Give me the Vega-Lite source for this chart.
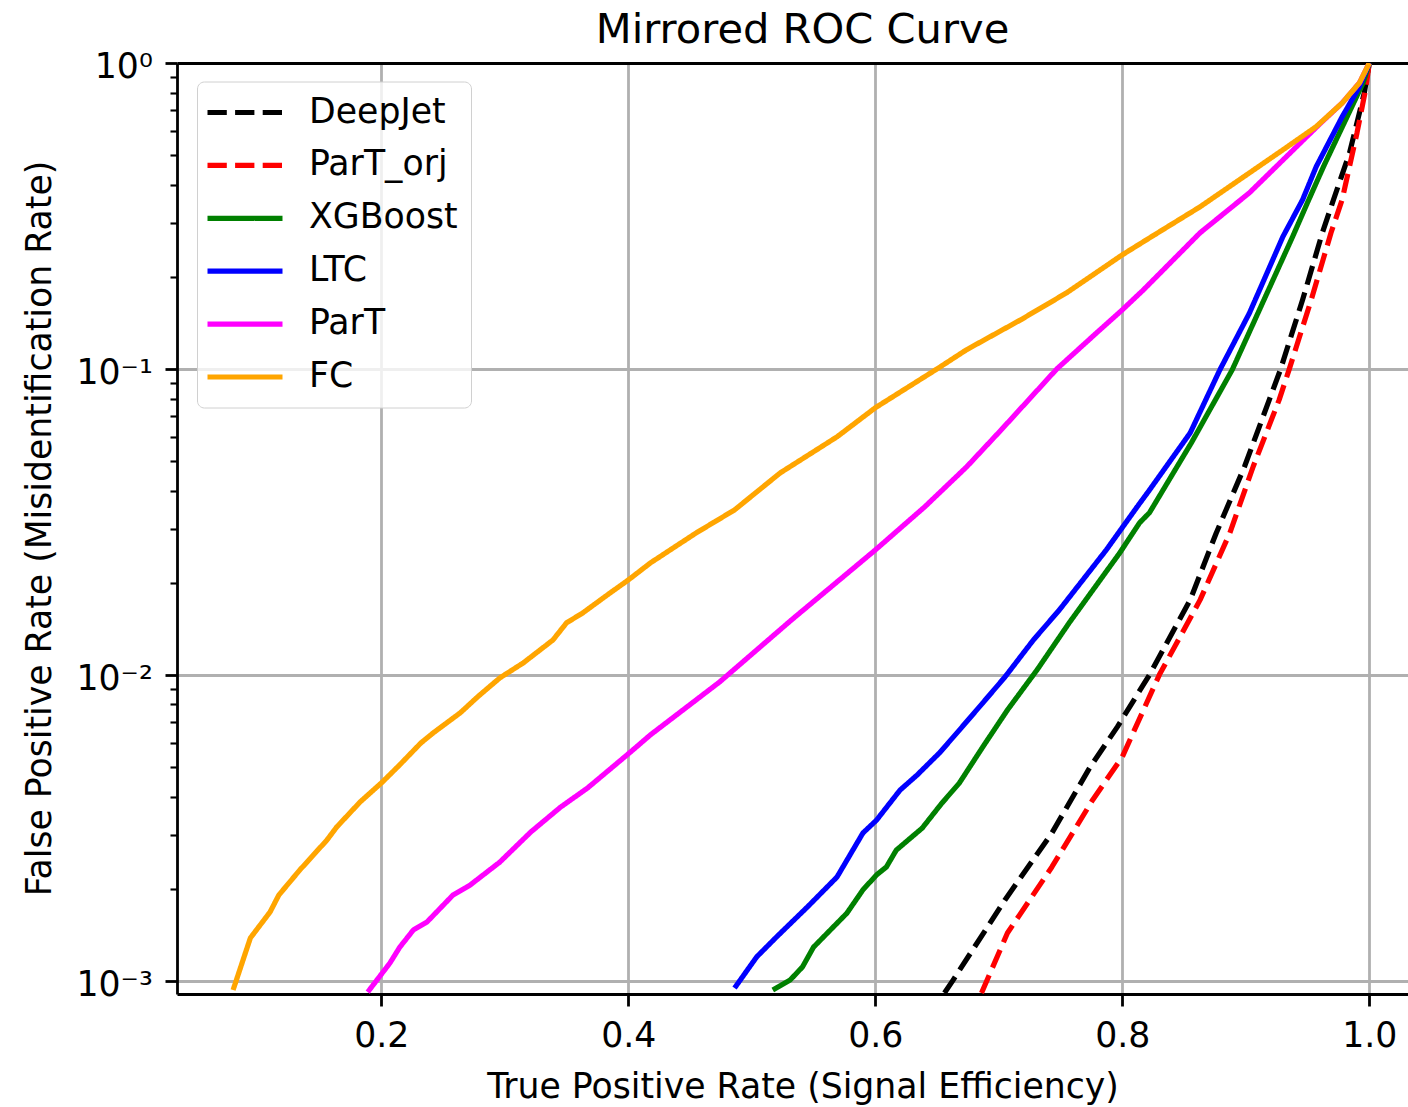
{
  "$schema": "https://vega.github.io/schema/vega-lite/v6.json",
  "width": 1231,
  "height": 931,
  "autosize": {"type": "none"},
  "padding": {"left": 177, "top": 63, "right": 0, "bottom": 113},
  "background": "white",
  "config": {"font": "DejaVu Sans", "view": {"stroke": null}},
  "title": {"text": "Mirrored ROC Curve", "fontSize": 41.6, "fontWeight": "normal", "font": "DejaVu Sans", "color": "black", "anchor": "middle", "frame": "group", "dx": 10, "dy": 54, "baseline": "alphabetic", "offset": 19},
  "data": {"values": [
    {"model":"DeepJet","tpr":0.656,"fpr":0.000912},{"model":"DeepJet","tpr":0.663,"fpr":0.001005},{"model":"DeepJet","tpr":0.705,"fpr":0.001837},{"model":"DeepJet","tpr":0.743,"fpr":0.003041},{"model":"DeepJet","tpr":0.774,"fpr":0.005},{"model":"DeepJet","tpr":0.796,"fpr":0.00676},{"model":"DeepJet","tpr":0.822,"fpr":0.01},{"model":"DeepJet","tpr":0.855,"fpr":0.01758},{"model":"DeepJet","tpr":0.876,"fpr":0.02904},{"model":"DeepJet","tpr":0.899,"fpr":0.04797},{"model":"DeepJet","tpr":0.919,"fpr":0.0792},{"model":"DeepJet","tpr":0.928,"fpr":0.0993},{"model":"DeepJet","tpr":0.946,"fpr":0.1682},{"model":"DeepJet","tpr":0.962,"fpr":0.2786},{"model":"DeepJet","tpr":0.971,"fpr":0.3573},{"model":"DeepJet","tpr":0.984,"fpr":0.508},{"model":"DeepJet","tpr":0.996,"fpr":0.8},{"model":"DeepJet","tpr":1.0,"fpr":1.0},
    {"model":"ParT_orj","tpr":0.686,"fpr":0.000912},{"model":"ParT_orj","tpr":0.707,"fpr":0.001432},{"model":"ParT_orj","tpr":0.743,"fpr":0.002355},{"model":"ParT_orj","tpr":0.776,"fpr":0.003899},{"model":"ParT_orj","tpr":0.8,"fpr":0.005395},{"model":"ParT_orj","tpr":0.83,"fpr":0.01},{"model":"ParT_orj","tpr":0.863,"fpr":0.01758},{"model":"ParT_orj","tpr":0.887,"fpr":0.02904},{"model":"ParT_orj","tpr":0.906,"fpr":0.04797},{"model":"ParT_orj","tpr":0.927,"fpr":0.0792},{"model":"ParT_orj","tpr":0.935,"fpr":0.0993},{"model":"ParT_orj","tpr":0.953,"fpr":0.1682},{"model":"ParT_orj","tpr":0.969,"fpr":0.2786},{"model":"ParT_orj","tpr":0.978,"fpr":0.3573},{"model":"ParT_orj","tpr":0.99,"fpr":0.59},{"model":"ParT_orj","tpr":0.997,"fpr":0.818},{"model":"ParT_orj","tpr":1.0,"fpr":1.0},
    {"model":"XGBoost","tpr":0.517,"fpr":0.000933},{"model":"XGBoost","tpr":0.531,"fpr":0.001005},{"model":"XGBoost","tpr":0.541,"fpr":0.001109},{"model":"XGBoost","tpr":0.55,"fpr":0.001288},{"model":"XGBoost","tpr":0.577,"fpr":0.001663},{"model":"XGBoost","tpr":0.59,"fpr":0.001982},{"model":"XGBoost","tpr":0.601,"fpr":0.002218},{"model":"XGBoost","tpr":0.609,"fpr":0.002355},{"model":"XGBoost","tpr":0.617,"fpr":0.002673},{"model":"XGBoost","tpr":0.638,"fpr":0.003155},{"model":"XGBoost","tpr":0.654,"fpr":0.003811},{"model":"XGBoost","tpr":0.668,"fpr":0.004426},{"model":"XGBoost","tpr":0.687,"fpr":0.005808},{"model":"XGBoost","tpr":0.707,"fpr":0.007674},{"model":"XGBoost","tpr":0.731,"fpr":0.01038},{"model":"XGBoost","tpr":0.757,"fpr":0.01479},{"model":"XGBoost","tpr":0.798,"fpr":0.02506},{"model":"XGBoost","tpr":0.814,"fpr":0.03141},{"model":"XGBoost","tpr":0.822,"fpr":0.03388},{"model":"XGBoost","tpr":0.856,"fpr":0.05741},{"model":"XGBoost","tpr":0.889,"fpr":0.0993},{"model":"XGBoost","tpr":0.938,"fpr":0.271},{"model":"XGBoost","tpr":0.951,"fpr":0.3573},{"model":"XGBoost","tpr":0.963,"fpr":0.4592},{"model":"XGBoost","tpr":0.982,"fpr":0.6668},{"model":"XGBoost","tpr":0.995,"fpr":0.861},{"model":"XGBoost","tpr":1.0,"fpr":1.0},
    {"model":"LTC","tpr":0.486,"fpr":0.000946},{"model":"LTC","tpr":0.504,"fpr":0.001197},{"model":"LTC","tpr":0.52,"fpr":0.00139},{"model":"LTC","tpr":0.545,"fpr":0.001742},{"model":"LTC","tpr":0.569,"fpr":0.002183},{"model":"LTC","tpr":0.59,"fpr":0.003041},{"model":"LTC","tpr":0.601,"fpr":0.00335},{"model":"LTC","tpr":0.62,"fpr":0.004198},{"model":"LTC","tpr":0.634,"fpr":0.00471},{"model":"LTC","tpr":0.652,"fpr":0.005559},{"model":"LTC","tpr":0.668,"fpr":0.006592},{"model":"LTC","tpr":0.687,"fpr":0.008091},{"model":"LTC","tpr":0.705,"fpr":0.00984},{"model":"LTC","tpr":0.728,"fpr":0.013},{"model":"LTC","tpr":0.749,"fpr":0.01629},{"model":"LTC","tpr":0.787,"fpr":0.02559},{"model":"LTC","tpr":0.812,"fpr":0.0354},{"model":"LTC","tpr":0.822,"fpr":0.04018},{"model":"LTC","tpr":0.855,"fpr":0.0618},{"model":"LTC","tpr":0.879,"fpr":0.0993},{"model":"LTC","tpr":0.903,"fpr":0.1524},{"model":"LTC","tpr":0.93,"fpr":0.2704},{"model":"LTC","tpr":0.946,"fpr":0.3573},{"model":"LTC","tpr":0.957,"fpr":0.4581},{"model":"LTC","tpr":0.978,"fpr":0.6668},{"model":"LTC","tpr":0.992,"fpr":0.8356},{"model":"LTC","tpr":1.0,"fpr":1.0},
    {"model":"ParT","tpr":0.189,"fpr":0.000918},{"model":"ParT","tpr":0.207,"fpr":0.001143},{"model":"ParT","tpr":0.215,"fpr":0.001288},{"model":"ParT","tpr":0.226,"fpr":0.001466},{"model":"ParT","tpr":0.237,"fpr":0.001556},{"model":"ParT","tpr":0.258,"fpr":0.001905},{"model":"ParT","tpr":0.272,"fpr":0.002056},{"model":"ParT","tpr":0.296,"fpr":0.002443},{"model":"ParT","tpr":0.321,"fpr":0.003062},{"model":"ParT","tpr":0.345,"fpr":0.00369},{"model":"ParT","tpr":0.367,"fpr":0.004266},{"model":"ParT","tpr":0.401,"fpr":0.005559},{"model":"ParT","tpr":0.418,"fpr":0.006368},{"model":"ParT","tpr":0.474,"fpr":0.00948},{"model":"ParT","tpr":0.532,"fpr":0.0151},{"model":"ParT","tpr":0.6,"fpr":0.02559},{"model":"ParT","tpr":0.64,"fpr":0.0354},{"model":"ParT","tpr":0.674,"fpr":0.04786},{"model":"ParT","tpr":0.702,"fpr":0.06324},{"model":"ParT","tpr":0.747,"fpr":0.1},{"model":"ParT","tpr":0.78,"fpr":0.1321},{"model":"ParT","tpr":0.8,"fpr":0.156},{"model":"ParT","tpr":0.817,"fpr":0.1811},{"model":"ParT","tpr":0.863,"fpr":0.2786},{"model":"ParT","tpr":0.903,"fpr":0.3767},{"model":"ParT","tpr":0.961,"fpr":0.6383},{"model":"ParT","tpr":0.978,"fpr":0.7396},{"model":"ParT","tpr":0.992,"fpr":0.861},{"model":"ParT","tpr":1.0,"fpr":1.0},
    {"model":"FC","tpr":0.08,"fpr":0.000933},{"model":"FC","tpr":0.094,"fpr":0.00138},{"model":"FC","tpr":0.11,"fpr":0.001679},{"model":"FC","tpr":0.117,"fpr":0.001905},{"model":"FC","tpr":0.134,"fpr":0.002301},{"model":"FC","tpr":0.156,"fpr":0.002884},{"model":"FC","tpr":0.164,"fpr":0.003184},{"model":"FC","tpr":0.183,"fpr":0.003846},{"model":"FC","tpr":0.201,"fpr":0.004467},{"model":"FC","tpr":0.215,"fpr":0.005082},{"model":"FC","tpr":0.232,"fpr":0.005984},{"model":"FC","tpr":0.242,"fpr":0.006457},{"model":"FC","tpr":0.264,"fpr":0.007516},{"model":"FC","tpr":0.278,"fpr":0.008472},{"model":"FC","tpr":0.296,"fpr":0.009772},{"model":"FC","tpr":0.315,"fpr":0.01094},{"model":"FC","tpr":0.339,"fpr":0.013},{"model":"FC","tpr":0.35,"fpr":0.01479},{"model":"FC","tpr":0.363,"fpr":0.01592},{"model":"FC","tpr":0.383,"fpr":0.01824},{"model":"FC","tpr":0.4,"fpr":0.02042},{"model":"FC","tpr":0.418,"fpr":0.02323},{"model":"FC","tpr":0.455,"fpr":0.02911},{"model":"FC","tpr":0.486,"fpr":0.03459},{"model":"FC","tpr":0.523,"fpr":0.04571},{"model":"FC","tpr":0.569,"fpr":0.05998},{"model":"FC","tpr":0.6,"fpr":0.07464},{"model":"FC","tpr":0.65,"fpr":0.1},{"model":"FC","tpr":0.674,"fpr":0.1156},{"model":"FC","tpr":0.718,"fpr":0.1449},{"model":"FC","tpr":0.755,"fpr":0.1774},{"model":"FC","tpr":0.8,"fpr":0.236},{"model":"FC","tpr":0.826,"fpr":0.2742},{"model":"FC","tpr":0.863,"fpr":0.3388},{"model":"FC","tpr":0.903,"fpr":0.4375},{"model":"FC","tpr":0.93,"fpr":0.52},{"model":"FC","tpr":0.957,"fpr":0.6194},{"model":"FC","tpr":0.978,"fpr":0.7396},{"model":"FC","tpr":0.992,"fpr":0.861},{"model":"FC","tpr":1.0,"fpr":1.0}
  ]},
  "mark": {"type": "line", "strokeWidth": 5.2, "clip": true, "strokeCap": "butt", "strokeJoin": "round"},
  "encoding": {
    "x": {"field": "tpr", "type": "quantitative",
      "scale": {"domain": [0.03458, 1.03134], "nice": false, "zero": false},
      "axis": {"title": "True Positive Rate (Signal Efficiency)", "values": [0.2, 0.4, 0.6, 0.8, 1.0], "format": ".1f",
        "labelFontSize": 34.7, "labelColor": "black", "labelPadding": 13.6, "labelFlush": false, "labelOverlap": false,
        "tickSize": 12, "tickWidth": 2.8, "tickColor": "black", "domainColor": "black", "domainWidth": 2.8,
        "grid": true, "gridColor": "#b0b0b0", "gridWidth": 2.8,
        "titleFontSize": 34.7, "titleFontWeight": "normal", "titleColor": "black", "titleBaseline": "alphabetic", "titleAlign": "center", "titleX": 625.5, "titleY": 103}},
    "y": {"field": "fpr", "type": "quantitative",
      "scale": {"type": "log", "domain": [0.000905, 1], "nice": false, "zero": false},
      "axis": {"title": "False Positive Rate (Misidentification Rate)",
        "values": [0.001,0.002,0.003,0.004,0.005,0.006,0.007,0.008,0.009,0.01,0.02,0.03,0.04,0.05,0.06,0.07,0.08,0.09,0.1,0.2,0.3,0.4,0.5,0.6,0.7,0.8,0.9,1],
        "labelExpr": "datum.value == 1 ? '10⁰' : datum.value == 0.1 ? '10⁻¹' : datum.value == 0.01 ? '10⁻²' : datum.value == 0.001 ? '10⁻³' : ''",
        "labelFontSize": 34.7, "labelColor": "black", "labelPadding": 12.7, "labelFlush": false, "labelOverlap": false, "labelBaseline": "middle", "labelOffset": 4.3,
        "tickSize": {"condition": {"test": "indexof([1,0.1,0.01,0.001], datum.value) >= 0", "value": 12}, "value": 7},
        "tickWidth": {"condition": {"test": "indexof([1,0.1,0.01,0.001], datum.value) >= 0", "value": 2.8}, "value": 2.1},
        "tickColor": "black", "domainColor": "black", "domainWidth": 2.8,
        "grid": true,
        "gridColor": {"condition": {"test": "datum.value == 1", "value": "black"}, "value": "#b0b0b0"},
        "gridOpacity": {"condition": {"test": "indexof([1,0.1,0.01,0.001], datum.value) >= 0", "value": 1}, "value": 0},
        "gridWidth": 2.8,
        "titleFontSize": 34.7, "titleFontWeight": "normal", "titleColor": "black", "titleAngle": 270, "titleBaseline": "alphabetic", "titleAlign": "center", "titleX": -127, "titleY": 465}},
    "color": {"field": "model", "type": "nominal",
      "scale": {"domain": ["DeepJet","ParT_orj","XGBoost","LTC","ParT","FC"], "range": ["#000000","#ff0000","#008000","#0000ff","#ff00ff","#ffa500"]},
      "legend": {"orient": "none", "legendX": 20, "legendY": 18.5, "title": null,
        "symbolType": "M-2.5,0H2.5", "symbolSize": 900, "symbolStrokeWidth": 5.2, "symbolOffset": 17,
        "labelFontSize": 34.7, "labelColor": "black", "labelOffset": 46, "labelLimit": 0,
        "padding": 13, "rowPadding": 17.9, "fillColor": "rgba(255,255,255,0.8)", "strokeColor": "#d0d0d0", "cornerRadius": 7}},
    "strokeDash": {"field": "model", "type": "nominal",
      "scale": {"domain": ["DeepJet","ParT_orj","XGBoost","LTC","ParT","FC"], "range": [[19.3,8.3],[19.3,8.3],[1,0],[1,0],[1,0],[1,0]]},
      "legend": {"orient": "none", "legendX": 20, "legendY": 18.5, "title": null,
        "symbolType": "M-2.5,0H2.5", "symbolSize": 900, "symbolStrokeWidth": 5.2, "symbolOffset": 17,
        "labelFontSize": 34.7, "labelColor": "black", "labelOffset": 46, "labelLimit": 0,
        "padding": 13, "rowPadding": 17.9, "fillColor": "rgba(255,255,255,0.8)", "strokeColor": "#d0d0d0", "cornerRadius": 7}}
  }
}
